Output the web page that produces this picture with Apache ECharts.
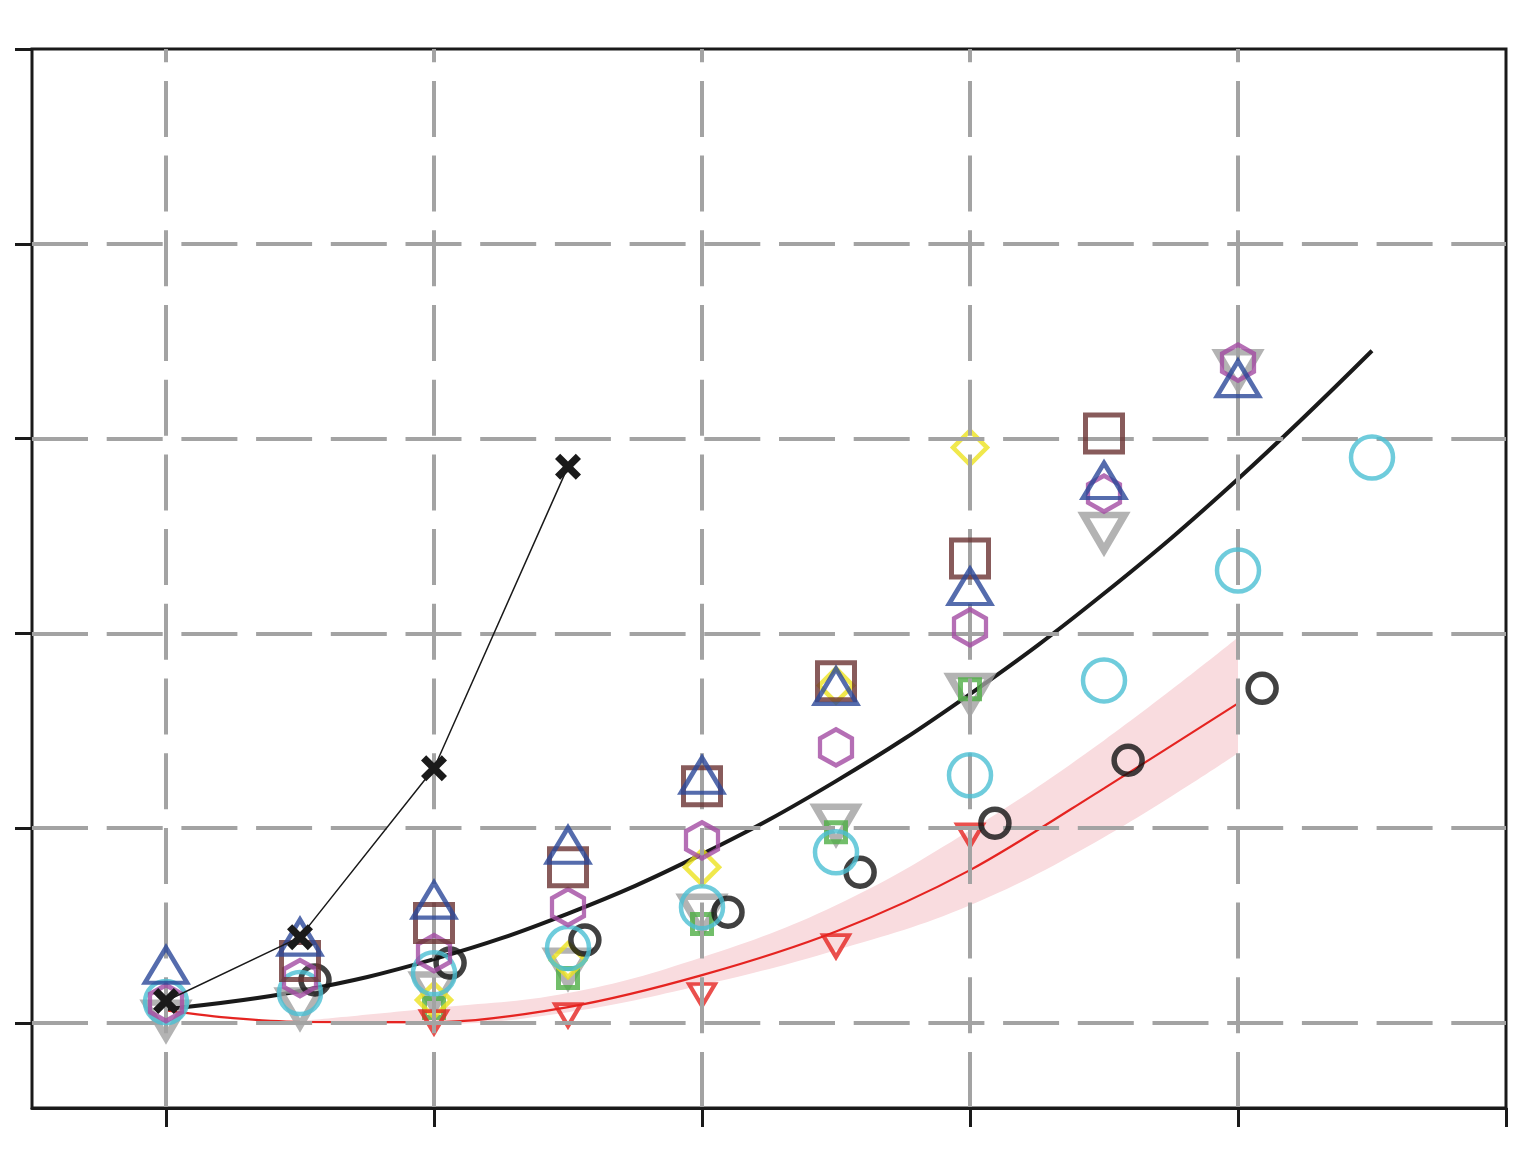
<!DOCTYPE html>
<html>
<head>
<meta charset="utf-8">
<script src="https://cdn.jsdelivr.net/npm/echarts@6/dist/echarts.min.js"></script>
<style>html,body{margin:0;padding:0;background:#fff}#c{width:1539px;height:1152px}</style>
</head>
<body>
<div id="c"></div>
<script>
// ---- data ----
const tickValues = [0, 1, 2, 3, 4, 5];
const gridX = [0, 1, 2, 3, 4];
const gridY = [0, 1, 2, 3, 4];

const xMain = [0, 0.5, 1, 1.5, 2, 2.5, 3, 3.5, 4];
const blueTriangle = [0.297, 0.441, 0.631, 0.913, 1.272, 1.728, 2.241, 2.785, 3.308];
const purpleHexagon = [0.103, 0.231, 0.359, 0.595, 0.938, 1.415, 2.031, 2.718, 3.390];
const grayTriangle = [0.015, 0.077, 0.159, 0.282, 0.559, 1.021, 1.692, 2.518, 3.354];

const brownX = [0.5, 1, 1.5, 2, 2.5, 3, 3.5];
const brownSquare = [0.318, 0.513, 0.800, 1.215, 1.754, 2.385, 3.026];

const cyanX = [0, 0.5, 1, 1.5, 2, 2.5, 3, 3.5, 4, 4.5];
const cyanCircle = [0.108, 0.154, 0.256, 0.385, 0.595, 0.877, 1.272, 1.759, 2.323, 2.903];

const blackCircleX = [0.556, 1.06, 1.563, 2.097, 2.59, 3.093, 3.59, 4.09];
const blackCircle = [0.221, 0.308, 0.426, 0.569, 0.774, 1.026, 1.349, 1.718];

const smallX = [1, 1.5, 2, 2.5, 3];
const yellowDiamond = [0.118, 0.323, 0.800, 1.733, 2.954];
const greenSquare = [0.077, 0.231, 0.508, 0.979, 1.713];
const redTriangle = [0.005, 0.041, 0.144, 0.395, 0.964];

const crossX = [0, 0.5, 1, 1.5];
const crossLine = [0.113, 0.441, 1.308, 2.856];

const blackFitX = [0, 0.5, 1, 1.5, 2, 2.5, 3, 3.5, 4, 4.5];
const blackFit = [0.072, 0.165, 0.328, 0.562, 0.867, 1.242, 1.689, 2.205, 2.793, 3.451];

const redFitX = [0, 0.25, 0.5, 1, 1.5, 2, 2.5, 3, 3.5, 4];
const redFit = [0.065, 0.025, 0.006, 0.005, 0.082, 0.246, 0.470, 0.785, 1.205, 1.641];

const bandX = [0.5, 1, 1.5, 2, 2.5, 3, 3.5, 4];
const bandLow = [0.000, -0.005, 0.056, 0.195, 0.374, 0.605, 0.954, 1.385];
const bandHigh = [0.010, 0.077, 0.154, 0.338, 0.605, 0.990, 1.451, 1.979];

// ---- build ----
const X_MIN = -0.5, X_MAX = 5, Y_MIN = -0.436, Y_MAX = 5;
const zip = (xs, ys) => xs.map((x, i) => [x, ys[i]]);
const hexPath = 'path://M5,0 L9.33,2.5 L9.33,7.5 L5,10 L0.67,7.5 L0.67,2.5 Z';
const crossPath = 'path://M2,0 L5,3 L8,0 L10,2 L7,5 L10,8 L8,10 L5,7 L2,10 L0,8 L3,5 L0,2 Z';
const hollow = (c, w) => ({ color: 'rgba(0,0,0,0)', borderColor: c, borderWidth: w });
const AREA_BASE = -0.2;

const gridLines = [];
gridX.forEach(v => gridLines.push([{ coord: [v, Y_MIN] }, { coord: [v, Y_MAX] }]));
gridY.forEach(v => gridLines.push([{ coord: [X_MIN, v] }, { coord: [X_MAX, v] }]));

function scatter(name, xs, ys, symbol, size, c, w, z, rotate) {
  return {
    name, type: 'scatter', data: zip(xs, ys), symbol, symbolSize: size,
    symbolRotate: rotate || 0, itemStyle: hollow(c, w), z, silent: true
  };
}

const axisTickStyle = { color: '#1a1a1a', width: 3 };
const option = {
  animation: false,
  backgroundColor: '#ffffff',
  grid: { left: 32, right: 33, top: 49, bottom: 44, show: true, borderColor: '#1a1a1a', borderWidth: 3, backgroundColor: 'transparent' },
  xAxis: {
    type: 'value', min: X_MIN, max: X_MAX, z: 10,
    axisLine: { show: true, onZero: false, lineStyle: { color: '#1a1a1a', width: 3 } },
    axisTick: { show: true, inside: false, length: 19, customValues: tickValues, lineStyle: axisTickStyle },
    axisLabel: { show: false },
    splitLine: { show: false }
  },
  yAxis: {
    type: 'value', min: Y_MIN, max: Y_MAX, z: 10,
    axisLine: { show: false, onZero: false },
    axisTick: { show: true, inside: false, length: 17, customValues: tickValues, lineStyle: axisTickStyle },
    axisLabel: { show: false },
    splitLine: { show: false }
  },
  series: [
    // band: pink area under the upper edge, covered by a white area under the lower edge
    { name: 'bandHigh', type: 'line', data: zip(bandX, bandHigh), symbol: 'none', smooth: 0.4,
      lineStyle: { width: 0, opacity: 0 }, areaStyle: { color: '#f9dcdf', opacity: 1, origin: AREA_BASE }, z: 1, silent: true },
    { name: 'bandLow', type: 'line', data: zip(bandX, bandLow), symbol: 'none', smooth: 0.4,
      lineStyle: { width: 0, opacity: 0 }, areaStyle: { color: '#ffffff', opacity: 1, origin: AREA_BASE }, z: 1, silent: true },
    { name: 'grid', type: 'line', data: [], z: 2, silent: true,
      markLine: { silent: true, symbol: ['none', 'none'], label: { show: false }, animation: false,
        lineStyle: { color: '#a3a3a3', width: 4, type: [56, 18.7] }, data: gridLines } },
    { name: 'redFit', type: 'line', data: zip(redFitX, redFit), symbol: 'none', smooth: 0.3,
      lineStyle: { color: '#e52421', width: 2.2 }, z: 3, silent: true },
    { name: 'blackFit', type: 'line', data: zip(blackFitX, blackFit), symbol: 'none', smooth: 0.4,
      lineStyle: { color: '#1a1a1a', width: 4 }, z: 3, silent: true },
    scatter('gray', xMain, grayTriangle, 'triangle', [41, 35], '#a0a0a0', 7, 4, 180),
    scatter('green', smallX, greenSquare, 'rect', 19, '#4fae45', 5, 4),
    scatter('yellow', smallX, yellowDiamond, 'diamond', 34, '#ece21f', 4.5, 4),
    scatter('red', smallX, redTriangle, 'triangle', [26, 22], '#e52421', 4, 4, 180),
    scatter('blackCircle', blackCircleX, blackCircle, 'circle', 28, '#111111', 5.5, 5),
    scatter('cyan', cyanX, cyanCircle, 'circle', 42, '#4bbfd3', 4.5, 5),
    scatter('purple', xMain, purpleHexagon, hexPath, [32, 36], '#a34ba3', 4.5, 6),
    scatter('brown', brownX, brownSquare, 'rect', 37, '#6a3232', 5, 6),
    scatter('blue', xMain, blueTriangle, 'triangle', [42, 35], '#2a4799', 4.5, 7),
    { name: 'cross', type: 'line', data: zip(crossX, crossLine), symbol: crossPath, symbolSize: 26,
      showAllSymbol: true, itemStyle: { color: '#1a1a1a' }, lineStyle: { color: '#1a1a1a', width: 1.5 }, z: 8, silent: true }
  ]
};
const chart = echarts.init(document.getElementById('c'), null, { renderer: 'canvas' });
chart.setOption(option);
</script>
</body>
</html>
